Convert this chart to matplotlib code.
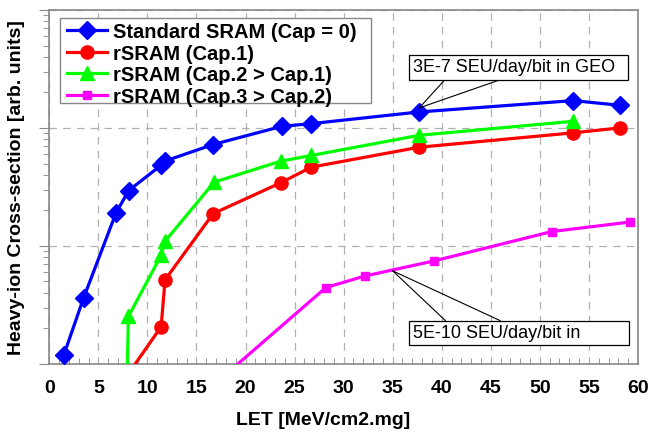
import numpy as np
import matplotlib
matplotlib.use("Agg")
import matplotlib.pyplot as plt
from matplotlib.ticker import LogLocator, NullFormatter, MultipleLocator
from matplotlib.patches import Rectangle

plt.rcParams['font.family'] = ['Liberation Sans', 'DejaVu Sans']

# ---- data (log10 of cross-section, arbitrary units) ----
std_x = [1.5, 3.5, 6.8, 8.1, 11.4, 11.8, 16.7, 23.7, 26.7, 37.7, 53.4, 58.2]
std_logy = [-2.92, -2.44, -1.72, -1.53, -1.315, -1.28, -1.14, -0.986, -0.963, -0.864, -0.768, -0.808]

cap1_x = [8.0, 11.4, 11.8, 16.7, 23.6, 26.7, 37.7, 53.4, 58.2]
cap1_logy = [-3.09, -2.685, -2.287, -1.726, -1.464, -1.332, -1.163, -1.041, -0.999]

cap2_x = [7.8, 8.07, 11.4, 11.8, 16.8, 23.6, 26.7, 37.7, 53.4]
cap2_logy = [-3.6, -2.597, -2.079, -1.96, -1.459, -1.281, -1.233, -1.062, -0.943]

cap3_x = [17.0, 28.2, 32.2, 39.2, 51.2, 59.2]
cap3_logy = [-3.16, -2.352, -2.254, -2.127, -1.878, -1.797]

labels = ["Standard SRAM (Cap = 0)", "rSRAM (Cap.1)",
          "rSRAM (Cap.2 > Cap.1)", "rSRAM (Cap.3 > Cap.2)"]
x_ticks = [0, 5, 10, 15, 20, 25, 30, 35, 40, 45, 50, 55, 60]

geo_note = "3E-7 SEU/day/bit in GEO"
geo_pt = (37.7, -0.83)
leo_note = "5E-10 SEU/day/bit in"
leo_pt = (35.0, -2.211)

fig = plt.figure(figsize=(6.5, 4.35), dpi=100)
ax = fig.add_axes([0.0758, 0.161, 0.9057, 0.8137])

series = [
    (std_x, std_logy, 'blue', 'D', 9.5),
    (cap1_x, cap1_logy, 'red', 'o', 9.5),
    (cap2_x, cap2_logy, '#00ff00', '^', 10),
    (cap3_x, cap3_logy, 'magenta', 's', 6),
]
for (xs, ly, c, m, ms), lab in zip(series, labels):
    ax.plot(xs, 10.0 ** np.array(ly), color=c, marker=m, markersize=ms,
            lw=2.3, label=lab, markeredgecolor=c, zorder=3)

ax.set_yscale('log')
ax.set_xlim(0, 60)
ax.set_ylim(1e-3, 1)
ax.set_xticks(x_ticks)
ax.xaxis.set_minor_locator(MultipleLocator(1))
ax.yaxis.set_major_locator(LogLocator(base=10, numticks=10))
ax.yaxis.set_minor_locator(LogLocator(base=10, subs=np.arange(2, 10), numticks=10))
ax.yaxis.set_major_formatter(NullFormatter())
ax.yaxis.set_minor_formatter(NullFormatter())

for lab in ax.get_xticklabels():
    lab.set_fontweight('bold')
ax.tick_params(axis='x', which='major', labelsize=14, length=0, pad=11,
               colors='#888888', labelcolor='black')
ax.tick_params(axis='x', which='minor', direction='in', length=4, color='#888888')
ax.tick_params(axis='y', which='major', direction='out', length=7, color='#888888')
ax.tick_params(axis='y', which='minor', direction='out', length=4, color='#888888')

for s in ax.spines.values():
    s.set_color('#888888')
    s.set_linewidth(1.2)

ax.grid(True, which='major', color='#b0b0b0', linestyle=(0, (6, 5)), lw=0.9)
ax.set_axisbelow(True)

ax.set_xlabel("LET [MeV/cm2.mg]", fontsize=14, fontweight='bold')
ax.xaxis.label.set_va('center')
ax.xaxis.set_label_coords(0.465, -0.158)
ax.set_ylabel("Heavy-ion Cross-section [arb. units]", fontsize=14,
              fontweight='bold')
ax.yaxis.label.set_va('center')
ax.yaxis.set_label_coords(-0.055, 0.5)

# legend frame drawn as a patch so the padding can match
ax.add_patch(Rectangle((0.0182, 0.737), 0.5465 - 0.0182, 0.977 - 0.737,
                       transform=ax.transAxes, fc='white', ec='#888888',
                       lw=1.0, zorder=4.5))
leg = ax.legend(loc='upper left', bbox_to_anchor=(0.030, 0.966),
                prop={'weight': 'bold', 'size': 14.5}, frameon=False,
                handlelength=2.0, handletextpad=0.3, borderpad=0.0,
                labelspacing=0.13, borderaxespad=0)
leg.set_zorder(5)

# callouts
def callout(text, pt, box, tx, ty, line_x, line_y):
    x0, y0, x1, y1 = box
    ax.add_patch(Rectangle((x0, y0), x1 - x0, y1 - y0, transform=ax.transAxes,
                           fc='white', ec='black', lw=0.9, zorder=5))
    ax.text(tx, ty, text, transform=ax.transAxes, fontsize=13,
            ha='left', va='center', zorder=6)
    for bx in line_x:
        ax.annotate('', xy=(pt[0], 10 ** pt[1]), xycoords='data',
                    xytext=(bx, line_y), textcoords='axes fraction',
                    arrowprops=dict(arrowstyle='-', color='black', lw=0.8,
                                    shrinkA=0, shrinkB=0), zorder=4)

callout(geo_note, geo_pt, (0.611, 0.803, 0.983, 0.874), 0.6175, 0.839,
        (0.672, 0.766), 0.803)
callout(leo_note, leo_pt, (0.611, 0.0545, 0.985, 0.1223), 0.6175, 0.088,
        (0.673, 0.766), 0.1223)

fig.savefig("out.png", dpi=100)
